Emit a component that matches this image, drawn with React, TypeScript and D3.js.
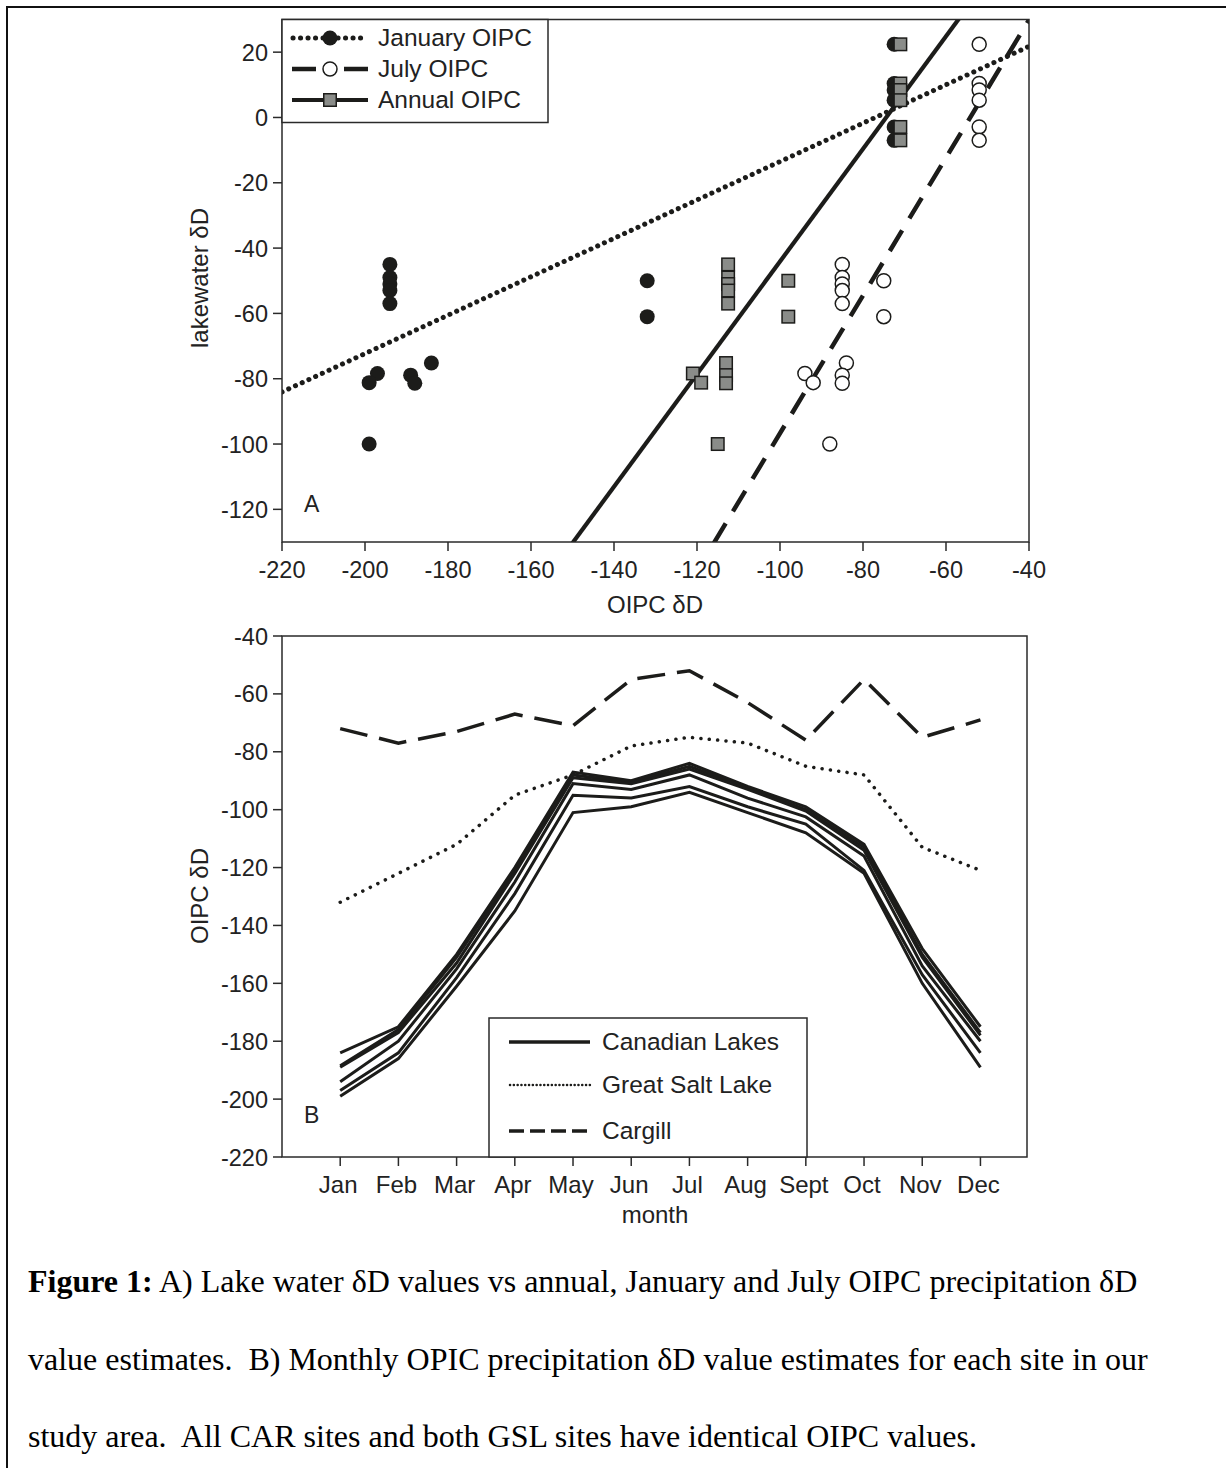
import React from 'react';
import * as d3 from 'd3';

// ---------- Panel A data ----------
const lakewaterD = [-45, -49, -51, -53, -57, -50, -61, -78.4, -81.2, -100, -75.2, -78.9, -81.4, 22.4, 10.4, 8.4, 5.3, -2.9, -7];
const januaryOIPC = [-194, -194, -194, -194, -194, -132, -132, -197, -199, -199, -184, -189, -188, -72.5, -72.5, -72.5, -72.5, -72.5, -72.5];
const julyOIPC = [-85, -85, -85, -85, -85, -75, -75, -94, -92, -88, -84, -85, -85, -52, -52, -52, -52, -52, -52];
const annualOIPC = [-112.5, -112.5, -112.5, -112.5, -112.5, -98, -98, -121, -119, -115, -113, -113, -113, -71, -71, -71, -71, -71, -71];
// fitted lines: slope, intercept
const janFit = [0.588, 45.3];
const julFit = [2.11, 114.3];
const annFit = [1.724, 128.3];
const xTicksA = [-220, -200, -180, -160, -140, -120, -100, -80, -60, -40];
const yTicksA = [-120, -100, -80, -60, -40, -20, 0, 20];

// ---------- Panel B data ----------
const months = ['Jan', 'Feb', 'Mar', 'Apr', 'May', 'Jun', 'Jul', 'Aug', 'Sept', 'Oct', 'Nov', 'Dec'];
const cargill = [-72, -77, -73, -67, -71, -55, -52, -63, -76, -55, -75, -69];
const greatSaltLake = [-132, -122, -112, -95, -88, -78, -75, -77, -85, -88, -113, -121];
const canadian1 = [-184, -175, -150, -120, -87, -90, -84, -92, -99, -112, -148, -175];
const canadian2 = [-188.5, -176, -151, -121, -88, -90.5, -85, -92.5, -100, -113, -150, -177];
const canadian3 = [-189, -177, -153, -122, -89, -91, -86, -93, -100.5, -114, -151, -178];
const canadian4 = [-194, -180, -155, -125, -91, -93, -88, -96, -102.5, -116, -154, -180];
const canadian5 = [-197, -184, -158, -129, -95, -96, -92, -99, -105, -121, -157, -184];
const canadian6 = [-199, -186, -161, -135, -101, -99, -94, -101, -108, -122, -160, -189];
const canadianLakes = [canadian1, canadian2, canadian3, canadian4, canadian5, canadian6];
const yTicksB = [-220, -200, -180, -160, -140, -120, -100, -80, -60, -40];

const FONT = "'Liberation Sans', Arial, Helvetica, sans-serif";
const SERIF = "'Liberation Serif', 'Times New Roman', serif";
const INK = '#1c1c1a';
const AXIS = '#2a2a2a';

export default function App() {
  // Panel A scales
  const xA = d3.scaleLinear().domain([-220, -40]).range([282, 1029]);
  const yA = d3.scaleLinear().domain([-130, 30]).range([542, 19.5]);
  // Panel B scales
  const xB = d3.scaleLinear().domain([0, 12.8]).range([282, 1027]);
  const yB = d3.scaleLinear().domain([-220, -40]).range([1157, 636]);

  const fitLine = (f: number[]) => {
    const pts: [number, number][] = [-220, -40].map((x) => [x, f[0] * x + f[1]]);
    return d3.line<[number, number]>().x((d) => xA(d[0])).y((d) => yA(d[1]))(pts) || '';
  };
  const monthLine = (vals: number[]) =>
    d3.line<number>().x((_, i) => xB(i + 1)).y((d) => yB(d))(vals) || '';

  const [ax0, ax1] = xA.range();
  const [ay0, ay1] = yA.range();
  const [bx0, bx1] = xB.range();
  const [by0, by1] = yB.range();
  const sq = 12.5;

  return (
    <svg width={1226} height={1468} style={{ position: 'absolute', left: 0, top: 0, display: 'block', background: '#fff' }}>
      <defs>
        <clipPath id="clipA">
          <rect x={ax0} y={ay1} width={ax1 - ax0} height={ay0 - ay1} />
        </clipPath>
        <clipPath id="clipB">
          <rect x={bx0} y={by1} width={bx1 - bx0} height={by0 - by1} />
        </clipPath>
      </defs>
      {/* page border */}
      <path d="M7,1468 L7,7 L1226,7" fill="none" stroke="#111" strokeWidth={2} />

      {/* ================= Panel A ================= */}
      <g clipPath="url(#clipA)">
        <path d={fitLine(janFit)} fill="none" stroke={INK} strokeWidth={5} strokeDasharray="0.1 7.3" strokeLinecap="round" />
        <path d={fitLine(annFit)} fill="none" stroke={INK} strokeWidth={4.2} />
        <path d={fitLine(julFit)} fill="none" stroke={INK} strokeWidth={4.5} strokeDasharray="24 14" />
      </g>
      {lakewaterD.map((v, i) => (
        <circle key={'j' + i} cx={xA(januaryOIPC[i])} cy={yA(v)} r={7.5} fill={INK} />
      ))}
      {lakewaterD.map((v, i) => (
        <circle key={'u' + i} cx={xA(julyOIPC[i])} cy={yA(v)} r={7} fill="#fff" stroke={INK} strokeWidth={1.5} />
      ))}
      {lakewaterD.map((v, i) => (
        <rect key={'a' + i} x={xA(annualOIPC[i]) - sq / 2} y={yA(v) - sq / 2} width={sq} height={sq} fill="#8a8c89" stroke={INK} strokeWidth={1.5} />
      ))}
      <rect x={ax0} y={ay1} width={ax1 - ax0} height={ay0 - ay1} fill="none" stroke={AXIS} strokeWidth={1.5} />
      {xTicksA.map((t) => (
        <g key={'xa' + t}>
          <line x1={xA(t)} x2={xA(t)} y1={ay0} y2={ay0 + 9} stroke={AXIS} strokeWidth={1.5} />
          <text x={xA(t)} y={ay0 + 36} textAnchor="middle" fontFamily={FONT} fontSize={23.5} fill="#222">{t}</text>
        </g>
      ))}
      {yTicksA.map((t) => (
        <g key={'ya' + t}>
          <line x1={ax0 - 9} x2={ax0} y1={yA(t)} y2={yA(t)} stroke={AXIS} strokeWidth={1.5} />
          <text x={ax0 - 14} y={yA(t) + 8.5} textAnchor="end" fontFamily={FONT} fontSize={23.5} fill="#222">{t}</text>
        </g>
      ))}
      <text x={655} y={613} textAnchor="middle" fontFamily={FONT} fontSize={24} fill="#222">OIPC δD</text>
      <text transform="translate(208,278) rotate(-90)" textAnchor="middle" fontFamily={FONT} fontSize={24} fill="#222">lakewater δD</text>
      <text x={304} y={512} fontFamily={FONT} fontSize={23} fill="#222">A</text>

      {/* Legend A */}
      <rect x={282} y={19.5} width={266} height={103} fill="#fff" stroke={AXIS} strokeWidth={1.5} />
      <line x1={293} x2={368} y1={38} y2={38} stroke={INK} strokeWidth={5} strokeDasharray="0.1 7.4" strokeLinecap="round" />
      <circle cx={330} cy={38} r={7.5} fill={INK} />
      <text x={378} y={46} fontFamily={FONT} fontSize={24.5} fill="#222">January OIPC</text>
      <line x1={292} x2={368} y1={69} y2={69} stroke={INK} strokeWidth={4.5} strokeDasharray="24 28 24" />
      <circle cx={330} cy={69} r={7} fill="#fff" stroke={INK} strokeWidth={1.5} />
      <text x={378} y={77} fontFamily={FONT} fontSize={24.5} fill="#222">July OIPC</text>
      <line x1={292} x2={368} y1={100} y2={100} stroke={INK} strokeWidth={4.2} />
      <rect x={330 - sq / 2} y={100 - sq / 2} width={sq} height={sq} fill="#8a8c89" stroke={INK} strokeWidth={1.5} />
      <text x={378} y={108} fontFamily={FONT} fontSize={24.5} fill="#222">Annual OIPC</text>

      {/* ================= Panel B ================= */}
      <g clipPath="url(#clipB)">
        <path d={monthLine(cargill)} fill="none" stroke={INK} strokeWidth={3.5} strokeDasharray="28 12" />
        <path d={monthLine(greatSaltLake)} fill="none" stroke={INK} strokeWidth={3.5} strokeDasharray="0.1 8.3" strokeLinecap="round" />
        {canadianLakes.map((s, i) => (
          <path key={'c' + i} d={monthLine(s)} fill="none" stroke={INK} strokeWidth={3} strokeLinejoin="miter" />
        ))}
      </g>
      <rect x={bx0} y={by1} width={bx1 - bx0} height={by0 - by1} fill="none" stroke={AXIS} strokeWidth={1.5} />
      {months.map((m, i) => (
        <g key={'m' + m}>
          <line x1={xB(i + 1)} x2={xB(i + 1)} y1={by0} y2={by0 + 9} stroke={AXIS} strokeWidth={1.5} />
          <text x={xB(i + 1) - 2} y={by0 + 36} textAnchor="middle" fontFamily={FONT} fontSize={24} fill="#222">{m}</text>
        </g>
      ))}
      {yTicksB.map((t) => (
        <g key={'yb' + t}>
          <line x1={bx0 - 9} x2={bx0} y1={yB(t)} y2={yB(t)} stroke={AXIS} strokeWidth={1.5} />
          <text x={bx0 - 14} y={yB(t) + 8.5} textAnchor="end" fontFamily={FONT} fontSize={23.5} fill="#222">{t}</text>
        </g>
      ))}
      <text x={655} y={1223} textAnchor="middle" fontFamily={FONT} fontSize={24} fill="#222">month</text>
      <text transform="translate(208,896) rotate(-90)" textAnchor="middle" fontFamily={FONT} fontSize={24} fill="#222">OIPC δD</text>
      <text x={304} y={1123} fontFamily={FONT} fontSize={23} fill="#222">B</text>

      {/* Legend B */}
      <rect x={489} y={1018} width={318} height={139} fill="#fff" stroke={AXIS} strokeWidth={1.5} />
      <line x1={509} x2={590} y1={1042} y2={1042} stroke={INK} strokeWidth={3.5} />
      <text x={602} y={1050} fontFamily={FONT} fontSize={24.5} fill="#222">Canadian Lakes</text>
      <line x1={510} x2={590} y1={1085} y2={1085} stroke={INK} strokeWidth={2.5} strokeDasharray="0.1 3.7" strokeLinecap="round" />
      <text x={602} y={1093} fontFamily={FONT} fontSize={24.5} fill="#222">Great Salt Lake</text>
      <line x1={509} x2={590} y1={1131} y2={1131} stroke={INK} strokeWidth={3.5} strokeDasharray="15 6" />
      <text x={602} y={1139} fontFamily={FONT} fontSize={24.5} fill="#222">Cargill</text>

      {/* ================= Caption ================= */}
      <text x={28} y={1292} fontFamily={SERIF} fontSize={32} fill="#000" style={{ whiteSpace: 'pre' }}>
        <tspan fontWeight="bold">Figure 1:</tspan>
        <tspan> A) Lake water δD values vs annual, January and July OIPC precipitation δD</tspan>
      </text>
      <text x={28} y={1370} fontFamily={SERIF} fontSize={32} fill="#000" style={{ whiteSpace: 'pre' }}>
        {'value estimates.  B) Monthly OPIC precipitation δD value estimates for each site in our'}
      </text>
      <text x={28} y={1447} fontFamily={SERIF} fontSize={32} fill="#000" style={{ whiteSpace: 'pre' }}>
        {'study area.  All CAR sites and both GSL sites have identical OIPC values.'}
      </text>
    </svg>
  );
}
